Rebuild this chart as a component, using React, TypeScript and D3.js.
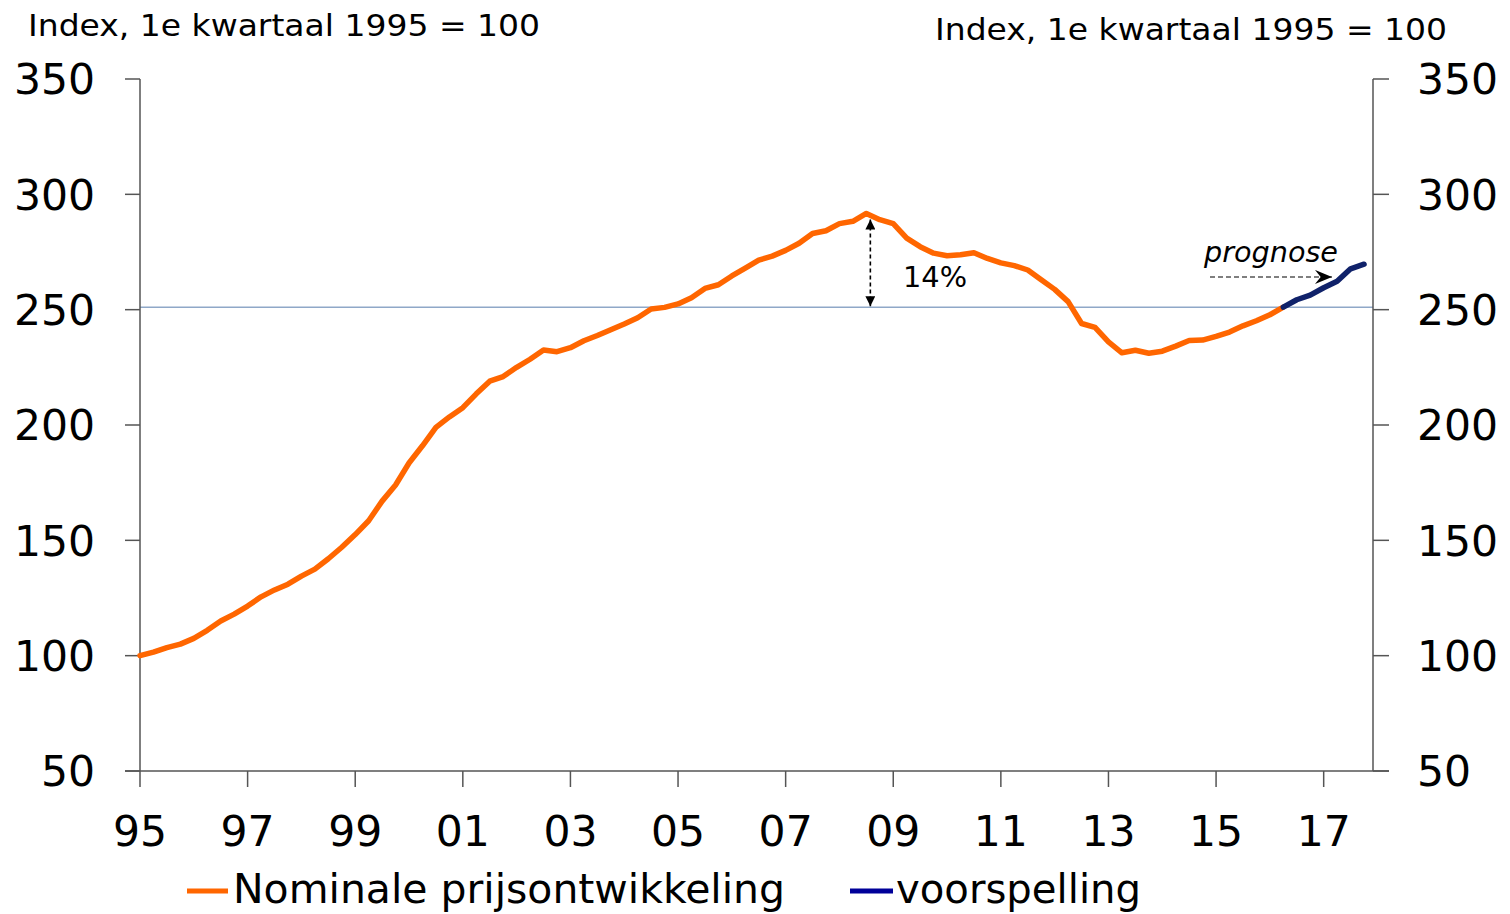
import React from "react";
import * as d3 from "d3";

// Quarterly index values, 1995Q1 .. 2016Q2 (actual)
const nominal: number[] = [
  100, 101.5, 103.5, 105, 107.5, 111, 115, 118, 121.5, 125.5, 128.5, 131,
  134.5, 137.5, 142, 147, 152.5, 158.5, 167, 174, 183.5, 191, 199, 203.5,
  207.5, 213.5, 219, 221, 225, 228.5, 232.5, 231.8, 233.5, 236.5, 238.8, 241.3,
  243.8, 246.5, 250.3, 251, 252.5, 255.2, 259.2, 260.8, 264.6, 268, 271.5, 273.2,
  275.7, 278.8, 283, 284.2, 287.3, 288.3, 291.7, 289, 287.3, 281, 277.3, 274.5,
  273.4, 273.8, 274.7, 272.2, 270.3, 269.1, 267.2, 263, 258.8, 253.5, 244, 242.3,
  236, 231.3, 232.4, 231.1, 232, 234.2, 236.6, 236.8, 238.4, 240.3, 243, 245.2,
  247.8, 251.1,
];
// Forecast 2016Q2 .. 2017Q4
const forecastStart = 85; // quarter index of first forecast point
const forecast: number[] = [251.1, 254.3, 256.3, 259.5, 262.3, 267.7, 269.7];

const yTicks: number[] = [50, 100, 150, 200, 250, 300, 350];
const xTickLabels: string[] = ["95", "97", "99", "01", "03", "05", "07", "09", "11", "13", "15", "17"];
const titleText = "Index, 1e kwartaal 1995 = 100";
const legendLabels: string[] = ["Nominale prijsontwikkeling", "voorspelling"];
const refValue = 251.1;
const peakQuarter = 54;
const peakValue = 291.7;

const W = 1510;
const H = 914;
const FONT = "'DejaVu Sans', Verdana, sans-serif";
const ORANGE = "#FF6600";
const NAVY = "#10226A";
const AXIS = "#555555";

export default function App() {
  const left = 140;
  const right = 1373;
  const top = 79;
  const bottom = 771;

  // x in months since Jan 1995; axis spans Jan 1995 .. Dec 2017
  const x = d3.scaleLinear().domain([0, 275]).range([left, right]);
  const y = d3.scaleLinear().domain([50, 350]).range([bottom, top]);

  const line = d3
    .line<[number, number]>()
    .x((d) => x(d[0] * 3))
    .y((d) => y(d[1]))
    .curve(d3.curveLinear);

  const nomPts: [number, number][] = nominal.map((v, i) => [i, v]);
  const fcPts: [number, number][] = forecast.map((v, i) => [forecastStart + i, v]);

  const ax = x(peakQuarter * 3) + 4;
  const arrowTop = y(peakValue) + 6;
  const arrowBottom = y(refValue) - 1;

  return (
    <svg width={W} height={H} style={{ position: "absolute", left: 0, top: 0 }} fontFamily={FONT}>
      <defs>
        <marker id="tri" viewBox="0 0 10 10" refX="10" refY="5" markerWidth="11" markerHeight="10" orient="auto-start-reverse" markerUnits="userSpaceOnUse">
          <path d="M0,0 L10,5 L0,10 z" fill="#000" />
        </marker>
        <marker id="stealth" viewBox="0 0 12 10" refX="12" refY="5" markerWidth="17" markerHeight="15" orient="auto" markerUnits="userSpaceOnUse">
          <path d="M0,0 L12,5 L0,10 L4,5 z" fill="#000" />
        </marker>
      </defs>
      <rect width={W} height={H} fill="#fff" />

      {/* titles */}
      <text x={28} y={36} fontSize={31} fill="#000" textLength={512} lengthAdjust="spacingAndGlyphs">{titleText}</text>
      <text x={935} y={40} fontSize={31} fill="#000" textLength={512} lengthAdjust="spacingAndGlyphs">{titleText}</text>

      {/* reference line */}
      <line x1={left} x2={right} y1={y(refValue)} y2={y(refValue)} stroke="#8FA8C8" strokeWidth={1.5} />

      {/* axes */}
      <line x1={left} x2={left} y1={top} y2={bottom} stroke={AXIS} strokeWidth={1.5} />
      <line x1={right} x2={right} y1={top} y2={bottom} stroke={AXIS} strokeWidth={1.5} />
      <line x1={left - 15} x2={right + 16} y1={bottom} y2={bottom} stroke={AXIS} strokeWidth={1.5} />
      {yTicks.map((t) => (
        <g key={"yt" + t}>
          <line x1={left - 15} x2={left} y1={y(t)} y2={y(t)} stroke={AXIS} strokeWidth={1.5} />
          <line x1={right} x2={right + 16} y1={y(t)} y2={y(t)} stroke={AXIS} strokeWidth={1.5} />
          <text x={95} y={y(t)} dy="0.36em" fontSize={42.5} textAnchor="end" fill="#000">{t}</text>
          <text x={1417} y={y(t)} dy="0.36em" fontSize={42.5} textAnchor="start" fill="#000">{t}</text>
        </g>
      ))}
      {xTickLabels.map((lab, i) => {
        const xx = x(i * 24);
        return (
          <g key={"xt" + lab}>
            <line x1={xx} x2={xx} y1={bottom} y2={bottom + 16} stroke={AXIS} strokeWidth={1.5} />
            <text x={xx} y={846} fontSize={42.5} textAnchor="middle" fill="#000">{lab}</text>
          </g>
        );
      })}

      {/* series */}
      <path d={line(nomPts) || ""} fill="none" stroke={ORANGE} strokeWidth={5.5} strokeLinejoin="round" strokeLinecap="round" />
      <path d={line(fcPts) || ""} fill="none" stroke={NAVY} strokeWidth={5.5} strokeLinejoin="round" strokeLinecap="round" />

      {/* 14% annotation */}
      <line x1={ax} x2={ax} y1={arrowTop} y2={arrowBottom} stroke="#000" strokeWidth={1.6} strokeDasharray="4,3"
        markerStart="url(#tri)" markerEnd="url(#tri)" />
      <text x={903} y={287} fontSize={28} fill="#000" textLength={64} lengthAdjust="spacingAndGlyphs">14%</text>

      {/* prognose annotation */}
      <text x={1204} y={262} fontSize={28.5} fontStyle="italic" fill="#000" textLength={134} lengthAdjust="spacingAndGlyphs">prognose</text>
      <line x1={1210} x2={1332} y1={277} y2={277} stroke="#555" strokeWidth={1.5} strokeDasharray="5,3" markerEnd="url(#stealth)" />

      {/* legend */}
      <line x1={187} x2={228} y1={891} y2={891} stroke={ORANGE} strokeWidth={5} />
      <text x={233} y={903} fontSize={40} fill="#000" textLength={552} lengthAdjust="spacingAndGlyphs">{legendLabels[0]}</text>
      <line x1={850} x2={893} y1={891} y2={891} stroke="#000099" strokeWidth={5} />
      <text x={896} y={903} fontSize={40} fill="#000" textLength={245} lengthAdjust="spacingAndGlyphs">{legendLabels[1]}</text>
    </svg>
  );
}
